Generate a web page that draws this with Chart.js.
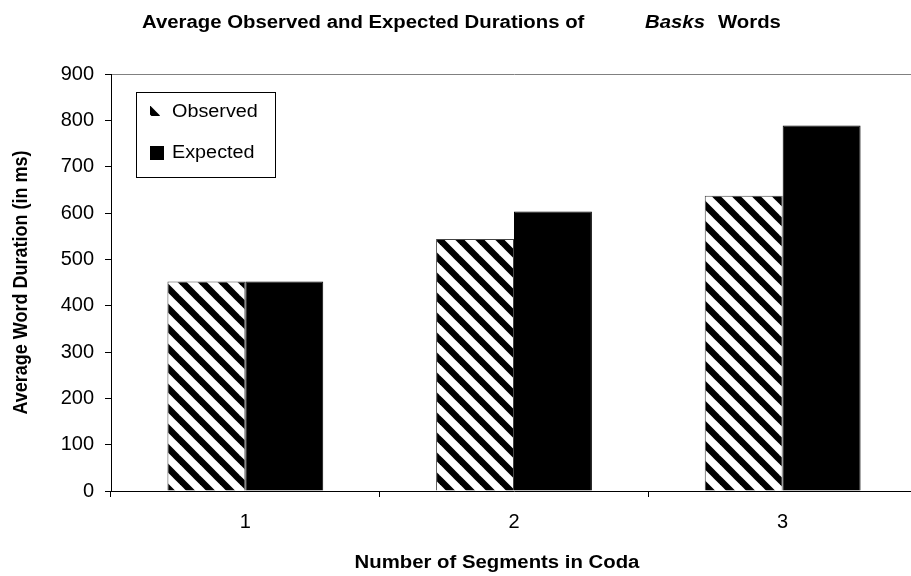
<!DOCTYPE html>
<html>
<head>
<meta charset="utf-8">
<script src="https://cdn.jsdelivr.net/npm/chart.js@4/dist/chart.umd.min.js"></script>
<style>
  html, body { margin: 0; padding: 0; background: #fff; overflow: hidden; }
  #wrap { width: 930px; height: 576px; }
</style>
</head>
<body>
<div id="wrap"><canvas id="chart-area" width="930" height="576"></canvas></div>
<script>
var categories = ["1", "2", "3"];
var observed = [452, 544, 637];
var expected = [452, 603, 789];
var yTicks = [0, 100, 200, 300, 400, 500, 600, 700, 800, 900];

var FONT = '"Liberation Sans", Arial, sans-serif';
Chart.defaults.font.family = FONT;
Chart.defaults.color = '#000';

var ctx = document.getElementById("chart-area").getContext("2d");

// diagonal "\" stripes for the Observed bars
function stripes() {
  var s = 20;
  var tile = document.createElement('canvas');
  tile.width = s;
  tile.height = s;
  var g = tile.getContext('2d');
  g.fillStyle = '#fff';
  g.fillRect(0, 0, s, s);
  g.strokeStyle = '#000';
  g.lineWidth = 6.5;
  for (var k = -1; k <= 1; k++) {
    g.beginPath();
    g.moveTo(-3, k * s - 3);
    g.lineTo(s + 3, s + k * s + 3);
    g.stroke();
  }
  return ctx.createPattern(tile, 'repeat');
}
var hatch = stripes();

// the original picture is a bit wider than tall, so text gets a small x stretch
function stretchText(c, str, x, y, font, sx, align) {
  c.save();
  c.font = font;
  c.fillStyle = '#000';
  c.textBaseline = 'alphabetic';
  c.textAlign = align || 'left';
  c.translate(x, y);
  c.scale(sx, 1);
  c.fillText(str, 0, 0);
  c.restore();
}

var extras = {
  id: 'extras',
  afterDraw: function(chart) {
    var c = chart.ctx;
    // title, with the italic word
    stretchText(c, 'Average Observed and Expected Durations of', 142, 28, 'bold 18px ' + FONT, 1.13);
    stretchText(c, 'Basks', 645, 28, 'italic bold 18px ' + FONT, 1.13);
    stretchText(c, 'Words', 718, 28, 'bold 18px ' + FONT, 1.13);
    // x axis title
    stretchText(c, 'Number of Segments in Coda', 497, 568, 'bold 18px ' + FONT, 1.13, 'center');

    // y axis title, rotated
    var a = chart.chartArea;
    c.save();
    c.translate(27, (a.top + a.bottom) / 2);
    c.rotate(-Math.PI / 2);
    c.scale(1, 1.13);
    c.font = 'bold 18px ' + FONT;
    c.fillStyle = '#000';
    c.textAlign = 'center';
    c.textBaseline = 'alphabetic';
    c.fillText('Average Word Duration (in ms)', 0, 0);
    c.restore();

    // legend box
    c.save();
    c.fillStyle = '#fff';
    c.fillRect(136, 92, 139, 85);
    c.strokeStyle = '#000';
    c.lineWidth = 1;
    c.strokeRect(136.5, 92.5, 139, 85);
    c.fillStyle = hatch;
    c.fillRect(150, 106, 10, 10);
    c.fillStyle = '#000';
    c.fillRect(150, 146, 14, 14);
    c.restore();
    stretchText(c, 'Observed', 172, 117, '18px ' + FONT, 1.1);
    stretchText(c, 'Expected', 172, 158, '18px ' + FONT, 1.1);
  }
};

var chart = new Chart(ctx, {
  type: 'bar',
  data: {
    labels: categories,
    datasets: [
      {
        label: 'Observed',
        data: observed,
        backgroundColor: hatch,
        borderColor: '#444',
        borderWidth: 1,
        categoryPercentage: 0.58,
        barPercentage: 1.0
      },
      {
        label: 'Expected',
        data: expected,
        backgroundColor: '#000',
        borderColor: '#000',
        borderWidth: 1,
        categoryPercentage: 0.58,
        barPercentage: 1.0
      }
    ]
  },
  options: {
    responsive: false,
    animation: false,
    layout: { padding: { left: 0, top: 74, right: 13, bottom: 0 } },
    plugins: {
      legend: { display: false },
      title: { display: false },
      tooltip: { enabled: false }
    },
    scales: {
      x: {
        grid: {
          offset: true,
          drawOnChartArea: false,
          tickLength: 6,
          color: '#000'
        },
        border: { color: '#000' },
        ticks: { color: '#000', font: { size: 20 }, padding: 13 },
        afterFit: function(s) { s.height = 85; }
      },
      y: {
        min: yTicks[0],
        max: yTicks[yTicks.length - 1],
        ticks: { stepSize: yTicks[1] - yTicks[0], color: '#000', font: { size: 20 }, padding: 11 },
        grid: {
          tickLength: 6,
          tickColor: '#000',
          color: function(c) {
            return c.tick && c.tick.value === yTicks[yTicks.length - 1] ? '#808080' : 'rgba(0,0,0,0)';
          }
        },
        border: { color: '#000' },
        afterFit: function(s) { s.width = 111; }
      }
    }
  },
  plugins: [extras]
});
</script>
</body>
</html>
